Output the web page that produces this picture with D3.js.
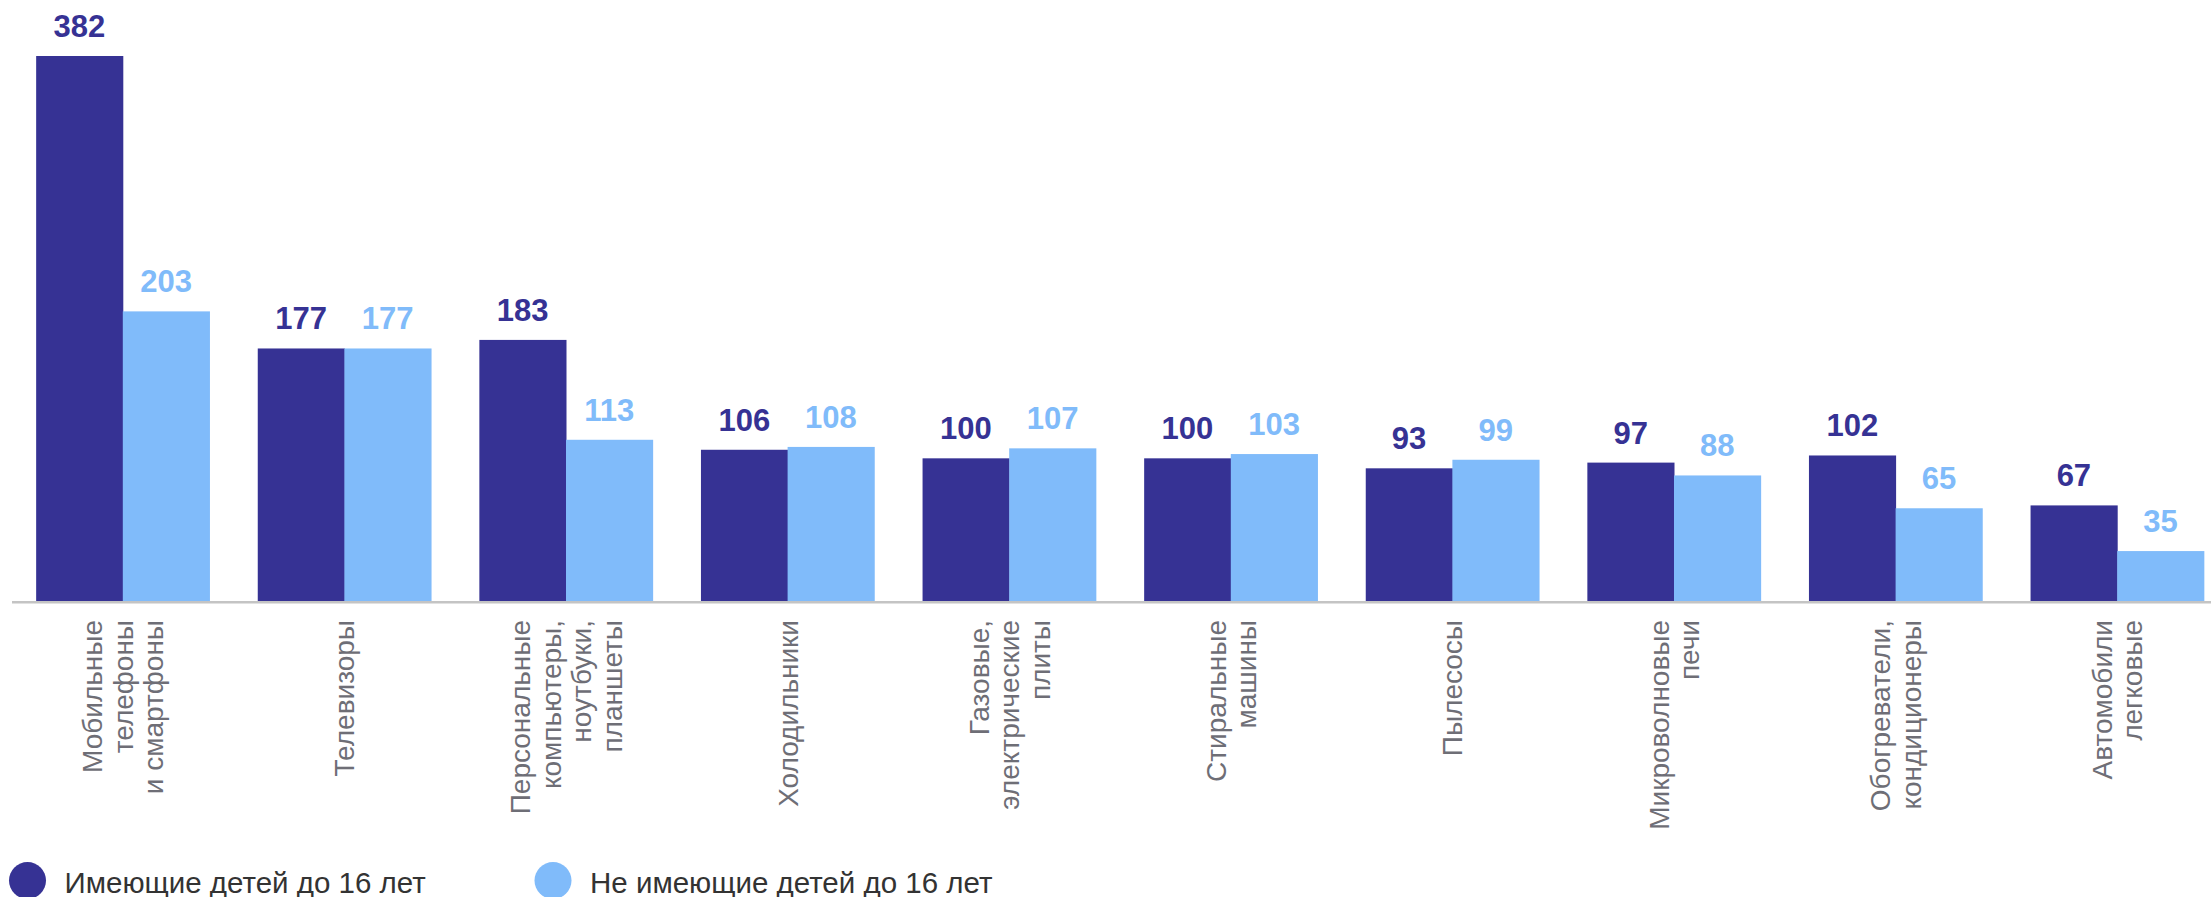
<!DOCTYPE html>
<html>
<head>
<meta charset="utf-8">
<script src="https://cdn.jsdelivr.net/npm/d3@7"></script>
<style>
  body { margin: 0; background: #fff; }
</style>
</head>
<body>
<div id="chart"></div>
<script>
// categories (line breaks = label lines)
const categories = [
  "Мобильные\nтелефоны\nи смартфоны",
  "Телевизоры",
  "Персональные\nкомпьютеры,\nноутбуки,\nпланшеты",
  "Холодильники",
  "Газовые,\nэлектрические\nплиты",
  "Стиральные\nмашины",
  "Пылесосы",
  "Микроволновые\nпечи",
  "Обогреватели,\nкондиционеры",
  "Автомобили\nлегковые",
];
const seriesNames = ["Имеющие детей до 16 лет", "Не имеющие детей до 16 лет"];
const withKids = [382, 177, 183, 106, 100, 100, 93, 97, 102, 67];
const withoutKids = [203, 177, 113, 108, 107, 103, 99, 88, 65, 35];

const width = 2211,
  height = 897,
  baseline = 601,
  plotTop = 56;

const colors = ["#363294", "#80bbfa"];

const svg = d3
  .select("#chart")
  .append("svg")
  .attr("width", width)
  .attr("height", height)
  .style("font-family", "'Liberation Sans', Arial, sans-serif");

// group scale
const x = d3
  .scaleBand()
  .domain(categories)
  .range([12, 2228])
  .paddingInner(0.218)
  .paddingOuter(0.109);

// series inside a group
const xSub = d3
  .scaleBand()
  .domain([0, 1])
  .range([0, x.bandwidth()]);

const y = d3.scaleLinear().domain([0, 382]).range([baseline, plotTop]);

const rows = categories.map((c, i) => ({
  cat: c,
  values: [withKids[i], withoutKids[i]],
}));

const groups = svg
  .append("g")
  .selectAll("g")
  .data(rows)
  .join("g")
  .attr("transform", (d) => `translate(${x(d.cat)},0)`);

groups
  .selectAll("rect")
  .data((d) => d.values.map((v, k) => ({ k: k, v: v })))
  .join("rect")
  .attr("x", (d) => xSub(d.k))
  .attr("y", (d) => y(d.v))
  .attr("width", xSub.bandwidth() + 0.5)
  .attr("height", (d) => baseline - y(d.v))
  .attr("fill", (d) => colors[d.k]);

// value labels
groups
  .selectAll("text.val")
  .data((d) => d.values.map((v, k) => ({ k: k, v: v })))
  .join("text")
  .attr("class", "val")
  .attr("x", (d) => xSub(d.k) + xSub.bandwidth() / 2)
  .attr("y", (d) => y(d.v) - 19)
  .attr("text-anchor", "middle")
  .style("font-size", "31px")
  .style("font-weight", "bold")
  .style("fill", (d) => colors[d.k])
  .text((d) => d.v);

// axis line
svg
  .append("line")
  .attr("x1", 12)
  .attr("x2", width)
  .attr("y1", baseline + 1.2)
  .attr("y2", baseline + 1.2)
  .attr("stroke", "#c4c4c4")
  .attr("stroke-width", 2.5);

// rotated category labels
const lineGap = 30.5;
svg
  .append("g")
  .selectAll("text")
  .data(categories)
  .join("text")
  .attr("transform", (d) => {
    const n = d.split("\n").length;
    const cx = x(d) + x.bandwidth() / 2 + 10 - ((n - 1) / 2) * lineGap;
    return `translate(${cx},620) rotate(-90)`;
  })
  .attr("text-anchor", "end")
  .style("font-size", "28px")
  .style("fill", "#6e6e76")
  .selectAll("tspan")
  .data((d) => d.split("\n"))
  .join("tspan")
  .attr("x", 0)
  .attr("dy", (d, i) => (i === 0 ? 0 : lineGap))
  .text((d) => d);

// legend
const legendX = [27.5, 553];
const legend = svg
  .append("g")
  .selectAll("g")
  .data(seriesNames)
  .join("g")
  .attr("transform", (d, i) => `translate(${legendX[i]},880.5)`);

legend
  .append("circle")
  .attr("r", 18.5)
  .attr("fill", (d, i) => colors[i]);

legend
  .append("text")
  .attr("x", 37)
  .attr("y", 12)
  .style("font-size", "29.5px")
  .style("fill", "#333")
  .text((d) => d);
</script>
</body>
</html>
